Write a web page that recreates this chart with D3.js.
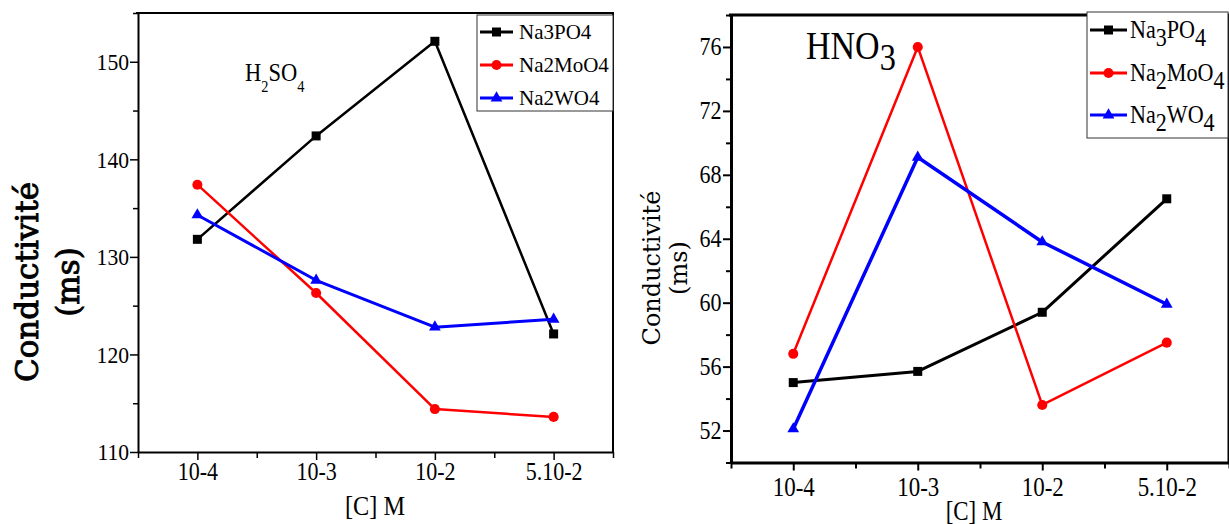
<!DOCTYPE html>
<html>
<head>
<meta charset="utf-8">
<script src="https://cdn.jsdelivr.net/npm/d3@7"></script>
<style>
  body { margin: 0; background: #fff; }
  svg { display: block; }
</style>
</head>
<body>
<svg id="chart" width="1229" height="524"></svg>
<script>
// Concentration categories shared by both panels
const categories = ["10-4", "10-3", "10-2", "5.10-2"];
const seriesNames = ["Na3PO4", "Na2MoO4", "Na2WO4"];

// Conductivity (ms) in H2SO4
const h2so4Na3PO4  = [131.8, 142.4, 152.1, 122.1];
const h2so4Na2MoO4 = [137.4, 126.3, 114.4, 113.6];
const h2so4Na2WO4  = [134.3, 127.6, 122.8, 123.6];

// Conductivity (ms) in HNO3
const hno3Na3PO4  = [55.0, 55.7, 59.4, 66.5];
const hno3Na2MoO4 = [56.8, 76.0, 53.6, 57.5];
const hno3Na2WO4  = [52.1, 69.1, 63.8, 59.9];

// Y axis tick labels
const h2so4Ticks = [110, 120, 130, 140, 150];
const hno3Ticks  = [52, 56, 60, 64, 68, 72, 76];

const colors  = ["#000000", "#ff0000", "#0000ff"];
const symbols = [d3.symbolSquare, d3.symbolCircle, d3.symbolTriangle];
const symbolSizes = [81, 80, 60];

const svg = d3.select("#chart");
svg.append("rect").attr("width", 1229).attr("height", 524).attr("fill", "#fff");

const SERIF = "'Liberation Serif', 'Times New Roman', serif";
const WIDE_SERIF = "'DejaVu Serif', serif";

// Writes a chemical formula, lowering digits as subscripts when asked
function formula(textSel, name, subscript, subSize, subShift) {
  const parts = name.match(/\d+|\D+/g);
  let shifted = false;
  parts.forEach(p => {
    const isDigit = /\d/.test(p);
    const t = textSel.append("tspan").text(p);
    if (subscript && isDigit) {
      t.attr("dy", shifted ? 0 : subShift).attr("font-size", subSize);
      shifted = true;
    } else if (shifted) {
      t.attr("dy", -subShift);
      shifted = false;
    }
  });
}

function drawPanel(o) {
  const g = svg.append("g");
  const x = d3.scaleLinear().domain([-0.5, categories.length - 0.5]).range([o.left, o.right]);
  const y = d3.scaleLinear().domain(o.yDomain).range([o.bottom, o.top]);

  // top and right frame
  g.append("path")
    .attr("d", `M${o.left - 2},${o.top}H${o.right}V${o.bottom}`)
    .attr("fill", "none").attr("stroke", "#000").attr("stroke-width", o.frameW);

  // y axis: minor then major ticks
  const yMinorVals = d3.range(o.yDomain[0], o.yDomain[1] + 1e-9, o.yMinorStep)
    .filter(v => !o.yTicks.includes(v));
  const yMinor = g.append("g").attr("transform", `translate(${o.left},0)`)
    .call(d3.axisLeft(y).tickValues(yMinorVals).tickSize(o.minorLen).tickSizeOuter(0).tickFormat(""));
  yMinor.select(".domain").remove();
  yMinor.selectAll("line").attr("stroke-width", o.tickW);

  const yAx = g.append("g").attr("transform", `translate(${o.left},0)`)
    .call(d3.axisLeft(y).tickValues(o.yTicks).tickSize(o.majorLen).tickSizeOuter(0).tickPadding(o.yPad));
  yAx.select(".domain").attr("stroke-width", o.frameW);
  yAx.selectAll("line").attr("stroke-width", o.tickW);
  yAx.attr("font-family", SERIF).attr("font-size", o.yFont);
  yAx.selectAll("text")
    .attr("fill", "#000")
    .attr("transform", `scale(${o.yScaleX},1)`)
    .attr("x", -(o.majorLen + o.yPad) / o.yScaleX);

  // x axis: half-step minor ticks then category ticks
  const xMinorVals = d3.range(-0.5, categories.length, 1);
  const xMinor = g.append("g").attr("transform", `translate(0,${o.bottom})`)
    .call(d3.axisBottom(x).tickValues(xMinorVals).tickSize(o.xMinorLen).tickSizeOuter(0).tickFormat(""));
  xMinor.select(".domain").remove();
  xMinor.selectAll("line").attr("stroke-width", o.tickW);

  const xAx = g.append("g").attr("transform", `translate(0,${o.bottom})`)
    .call(d3.axisBottom(x).tickValues(d3.range(categories.length)).tickSize(o.majorLen)
      .tickSizeOuter(0).tickFormat(i => categories[i]));
  xAx.select(".domain").attr("stroke-width", o.frameW);
  xAx.selectAll("line").attr("stroke-width", o.tickW);
  xAx.attr("font-family", SERIF).attr("font-size", o.xFont);
  xAx.selectAll("text")
    .attr("fill", "#000")
    .attr("y", o.xLabelBase).attr("dy", 0)
    .attr("transform", `scale(${o.xScaleX},1)`);

  // series lines and markers
  o.series.forEach((vals, si) => {
    const line = d3.line().x((d, i) => x(i)).y(d => y(d));
    g.append("path").datum(vals)
      .attr("d", line).attr("fill", "none")
      .attr("stroke", colors[si]).attr("stroke-width", o.lineW[si])
      .attr("stroke-linejoin", "round");
    g.selectAll(null).data(vals).join("path")
      .attr("transform", (d, i) => `translate(${x(i)},${y(d)})`)
      .attr("d", d3.symbol().type(symbols[si]).size(symbolSizes[si]))
      .attr("fill", colors[si]);
  });

  // legend
  const L = o.legend;
  g.append("rect").attr("x", L.x).attr("y", L.y).attr("width", L.w).attr("height", L.h)
    .attr("fill", "#fff").attr("stroke", "#333").attr("stroke-width", 1);
  seriesNames.forEach((name, si) => {
    const ry = L.rows[si];
    g.append("line").attr("x1", L.lineX0).attr("x2", L.lineX1).attr("y1", ry).attr("y2", ry)
      .attr("stroke", colors[si]).attr("stroke-width", 3);
    g.append("path")
      .attr("transform", `translate(${(L.lineX0 + L.lineX1) / 2},${ry})`)
      .attr("d", d3.symbol().type(symbols[si]).size(symbolSizes[si]))
      .attr("fill", colors[si]);
    const t = g.append("text")
      .attr("transform", `translate(${L.textX},${ry + L.baseOff}) scale(${L.scaleX},1)`)
      .attr("font-family", SERIF).attr("font-size", L.font).attr("fill", "#000");
    formula(t, name, L.subscript, L.font, L.subShift);
  });

  // axis titles
  g.append("text")
    .attr("transform", `translate(${o.xTitle.x},${o.xTitle.y}) scale(${o.xTitle.sx},1)`)
    .attr("text-anchor", "middle").attr("font-family", SERIF)
    .attr("font-size", o.xTitle.font).attr("fill", "#000").text("[C] M");

  o.yTitle.lines.forEach(ln => {
    g.append("text")
      .attr("transform", `translate(${ln.x},${o.yTitle.y}) rotate(-90)`)
      .attr("text-anchor", "middle").attr("font-family", WIDE_SERIF)
      .attr("font-size", o.yTitle.font).attr("fill", "#000")
      .attr("stroke", "#000").attr("stroke-width", o.yTitle.stroke)
      .text(ln.text);
  });

  // acid label
  const A = o.acid;
  const at = g.append("text")
    .attr("transform", `translate(${A.x},${A.y}) scale(${A.sx},1)`)
    .attr("font-family", SERIF).attr("font-size", A.font).attr("fill", "#000");
  formula(at, A.text, true, A.subFont, A.subShift);
}

drawPanel({
  left: 138, right: 613, top: 13, bottom: 452,
  yDomain: [110, 155], yTicks: h2so4Ticks, yMinorStep: 5,
  frameW: 2, tickW: 1.5, majorLen: 8, minorLen: 5, xMinorLen: 6,
  yPad: 1, yFont: 24, yScaleX: 0.9,
  xFont: 24.5, xScaleX: 0.9, xLabelBase: 28,
  lineW: [2.5, 2.5, 3],
  series: [h2so4Na3PO4, h2so4Na2MoO4, h2so4Na2WO4],
  legend: { x: 477, y: 15, w: 136, h: 96, rows: [32, 65, 98], lineX0: 480, lineX1: 513,
            textX: 519, baseOff: 7, font: 21, scaleX: 1, subscript: false, subShift: 0 },
  xTitle: { x: 375, y: 515, font: 27, sx: 0.9 },
  yTitle: { y: 282, font: 31, stroke: 0.9,
            lines: [{ x: 38, text: "Conductivité" }, { x: 79, text: "(ms)" }] },
  acid: { x: 245, y: 81, font: 25, sx: 0.9, text: "H2SO4", subFont: 16, subShift: 11 }
});

drawPanel({
  left: 731, right: 1229, top: 15, bottom: 462.5,
  yDomain: [50, 78], yTicks: hno3Ticks, yMinorStep: 2,
  frameW: 3, tickW: 2, majorLen: 8, minorLen: 5, xMinorLen: 6,
  yPad: 1.5, yFont: 25, yScaleX: 0.88,
  xFont: 27, xScaleX: 0.85, xLabelBase: 34,
  lineW: [3, 2.5, 3.5],
  series: [hno3Na3PO4, hno3Na2MoO4, hno3Na2WO4],
  legend: { x: 1087, y: 12, w: 141, h: 126, rows: [30, 73, 115], lineX0: 1090, lineX1: 1127,
            textX: 1130, baseOff: 8, font: 26, scaleX: 0.85, subscript: true, subShift: 8 },
  xTitle: { x: 974, y: 520, font: 27, sx: 0.85 },
  yTitle: { y: 268, font: 24, stroke: 0,
            lines: [{ x: 660, text: "Conductivité" }, { x: 687, text: "(ms)" }] },
  acid: { x: 806, y: 59, font: 40, sx: 0.85, text: "HNO3", subFont: 38, subShift: 11 }
});
</script>
</body>
</html>
